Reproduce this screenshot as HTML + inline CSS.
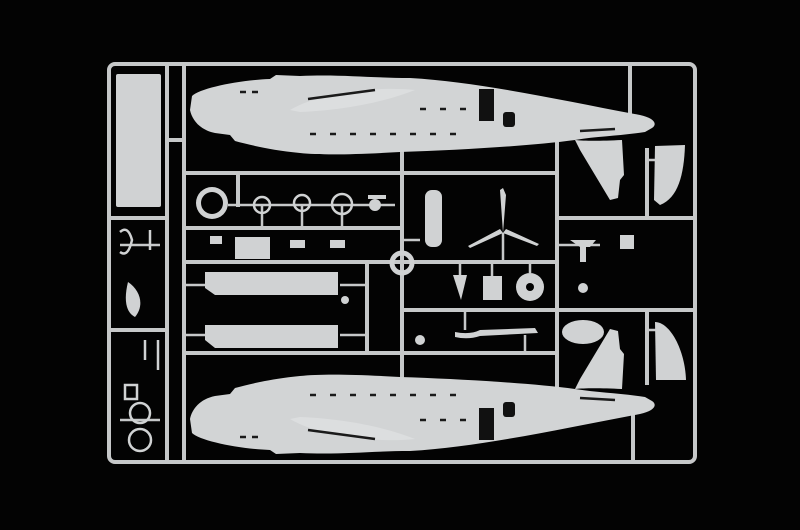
<!DOCTYPE html>
<html><head><meta charset="utf-8"><style>html,body{margin:0;padding:0;background:#000;}svg{display:block}</style></head>
<body>
<svg width="800" height="530" viewBox="0 0 800 530" xmlns="http://www.w3.org/2000/svg">
<rect width="800" height="530" fill="#030303"/>
<g stroke="#c6c8c9" fill="none" stroke-width="4" stroke-linecap="square">
  <rect x="109" y="64" width="586" height="398" rx="6"/>
  <line x1="167" y1="64" x2="167" y2="462"/>
  <line x1="184" y1="64" x2="184" y2="462"/>
  <line x1="109" y1="218" x2="167" y2="218"/>
  <line x1="109" y1="330" x2="167" y2="330"/>
  <line x1="184" y1="173" x2="557" y2="173"/>
  <line x1="184" y1="228" x2="400" y2="228"/>
  <line x1="184" y1="262" x2="557" y2="262"/>
  <line x1="184" y1="353" x2="557" y2="353"/>
  <line x1="402" y1="153" x2="402" y2="378"/>
  <line x1="557" y1="140" x2="557" y2="390"/>
  <line x1="402" y1="310" x2="695" y2="310"/>
  <line x1="557" y1="218" x2="695" y2="218"/>
  <line x1="630" y1="64" x2="630" y2="115"/>
  <line x1="647" y1="150" x2="647" y2="218"/>
  <line x1="647" y1="312" x2="647" y2="383"/>
  <line x1="633" y1="415" x2="633" y2="462"/>
  <line x1="367" y1="262" x2="367" y2="353"/>
  <line x1="238" y1="173" x2="238" y2="205"/>
  <line x1="167" y1="140" x2="184" y2="140"/>
</g>
<g stroke="#c6c8c9" stroke-width="2.5" fill="none">
  <line x1="228" y1="205" x2="395" y2="205"/>
  <line x1="262" y1="205" x2="262" y2="228"/>
  <line x1="302" y1="205" x2="302" y2="228"/>
  <line x1="342" y1="205" x2="342" y2="228"/>
  <line x1="402" y1="240" x2="420" y2="240"/>
  <line x1="503" y1="233" x2="503" y2="262"/>
  <line x1="184" y1="285" x2="205" y2="285"/>
  <line x1="340" y1="285" x2="367" y2="285"/>
  <line x1="184" y1="335" x2="205" y2="335"/>
  <line x1="340" y1="335" x2="367" y2="335"/>
  <line x1="460" y1="262" x2="460" y2="275"/>
  <line x1="492" y1="262" x2="492" y2="276"/>
  <line x1="530" y1="262" x2="530" y2="273"/>
  <line x1="465" y1="310" x2="465" y2="330"/>
  <line x1="525" y1="335" x2="525" y2="353"/>
  <line x1="557" y1="245" x2="600" y2="245"/>
  <line x1="647" y1="160" x2="660" y2="160"/>
  <line x1="647" y1="330" x2="660" y2="330"/>
  <line x1="120" y1="245" x2="160" y2="245"/>
  <line x1="120" y1="420" x2="160" y2="420"/>
</g>
<defs>
<g id="fus">
  <path d="M192,96 C200,88 240,80 270,79 L276,75 L300,76 C340,74 370,78 410,78 C480,82 560,100 640,115 C654,118 658,124 652,128 L645,132 C620,136 600,136 575,140 L580,150 L610,200 L618,198 L620,180 L624,175 L622,140 C600,141 585,141 575,140 C530,146 460,150 400,152 C350,155 320,155 300,153 C270,150 250,145 235,141 L230,135 L215,133 C200,130 192,120 190,110 Z" fill="#d2d4d5"/>
  <path d="M290,110 C320,92 380,86 415,90 C390,100 350,110 300,112 Z" fill="#dcdedf"/>
  <g stroke="#1a1a1a" stroke-width="2.5">
    <line x1="308" y1="99" x2="375" y2="90"/>
    <line x1="240" y1="92" x2="246" y2="92"/><line x1="252" y1="92" x2="258" y2="92"/>
    <g stroke-dasharray="6,14"><line x1="310" y1="134" x2="470" y2="134"/><line x1="420" y1="109" x2="470" y2="109"/></g>
    <line x1="580" y1="131" x2="615" y2="129"/>
  </g>
  <rect x="479" y="89" width="15" height="32" fill="#111"/>
  <rect x="503" y="112" width="12" height="15" rx="3" fill="#111"/>
</g>
</defs>
<use href="#fus"/>
<use href="#fus" transform="translate(0,529) scale(1,-1)"/>
<g fill="#d0d2d3">
  <rect x="116" y="74" width="45" height="133" rx="2"/>
  <circle cx="212" cy="203" r="16"/>
  <path d="M205,272 L338,272 L338,295 L215,295 L205,288 Z"/>
  <path d="M205,325 L338,325 L338,348 L215,348 L205,340 Z"/>
  <rect x="425" y="190" width="17" height="57" rx="7"/>
  <path d="M503,233 L500,190 L503,188 L506,195 Z M503,233 L470,248 L468,246 L500,229 Z M503,233 L537,246 L539,244 L506,229 Z"/>
  <path d="M453,275 L467,275 L461,300 Z"/>
  <rect x="483" y="276" width="19" height="24"/>
  <circle cx="530" cy="287" r="14"/>
  <ellipse cx="583" cy="332" rx="21" ry="12"/>
  <path d="M655,146 L685,145 C684,175 678,198 660,205 L654,200 Z"/>
  <path d="M655,322 C670,322 685,350 686,380 L656,380 Z"/>
  <path d="M570,240 L596,240 L590,247 L586,247 L586,262 L580,262 L580,247 Z"/>
  <rect x="620" y="235" width="14" height="14"/>
  <path d="M455,332 Q470,335 480,330 L535,328 L538,333 L480,336 Q468,340 455,337 Z"/>
  <path d="M128,282 C140,290 145,305 135,317 C125,312 124,298 128,282 Z"/>
  <rect x="235" y="237" width="35" height="22"/>
  <rect x="210" y="236" width="12" height="8"/>
  <rect x="290" y="240" width="15" height="8"/>
  <rect x="330" y="240" width="15" height="8"/>
  <circle cx="375" cy="205" r="6"/>
  <rect x="368" y="195" width="18" height="4"/>
  <circle cx="583" cy="288" r="5"/>
  <circle cx="420" cy="340" r="5"/>
  <circle cx="345" cy="300" r="4"/>
</g>
<g fill="#030303">
  <circle cx="212" cy="203" r="11"/>
  <circle cx="530" cy="287" r="4"/>
</g>
<g fill="none" stroke="#d0d2d3" stroke-width="2.5">
  <circle cx="262" cy="205" r="8"/>
  <circle cx="302" cy="203" r="8"/>
  <circle cx="342" cy="204" r="10"/>
  <circle cx="402" cy="263" r="10" stroke-width="5"/>
  <circle cx="140" cy="413" r="10"/>
  <circle cx="140" cy="440" r="11"/>
  <path d="M120,232 Q128,225 132,240 Q128,258 120,252"/>
  <line x1="150" y1="230" x2="150" y2="250"/>
  <line x1="145" y1="340" x2="145" y2="360"/>
  <line x1="158" y1="340" x2="158" y2="370"/>
  <rect x="125" y="385" width="12" height="14"/>
</g>
</svg>
</body></html>
